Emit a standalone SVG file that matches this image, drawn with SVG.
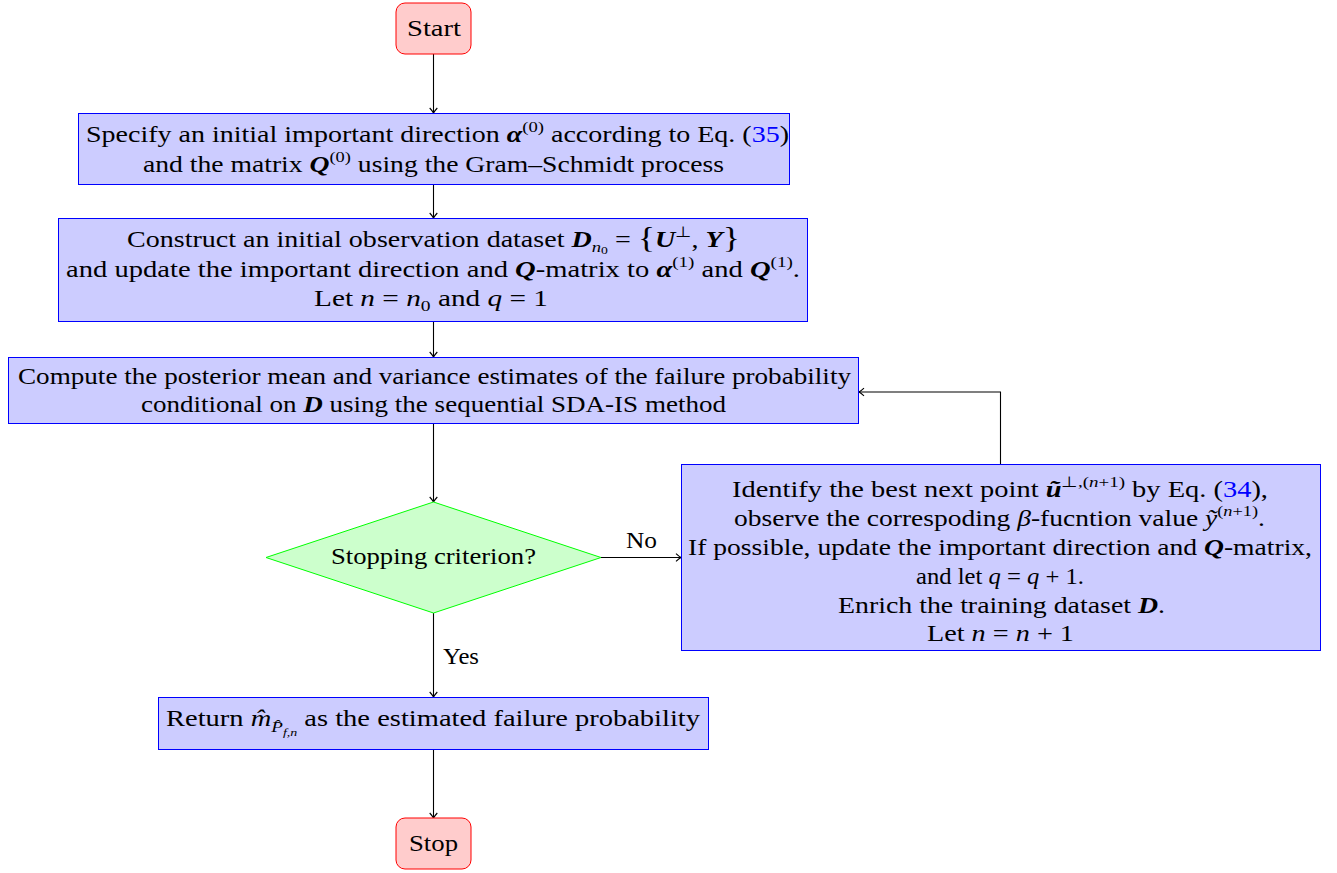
<svg xmlns="http://www.w3.org/2000/svg" width="1337" height="873" viewBox="0 0 1337 873">
<defs>
<style>
text{font-family:"Liberation Serif","Times New Roman",Tinos,serif;font-size:22.5px;fill:#000}
.m{font-style:italic}
.b{font-style:italic;font-weight:bold}
.s{font-size:15px}
.ss{font-size:11px}
.lk{fill:#0000ff}
.box{fill:#ccccff;stroke:#0000ff;stroke-width:1}
.term{fill:#ffcccc;stroke:#ff0000;stroke-width:1}
.dec{fill:#ccffcc;stroke:#00ff00;stroke-width:1}
.con{fill:none;stroke:#000;stroke-width:1.1}
</style>
<marker id="ar" markerWidth="12" markerHeight="12" refX="10" refY="6" orient="auto" markerUnits="userSpaceOnUse">
<path d="M5,2.2 Q8,5 10,6 Q8,7 5,9.8" fill="none" stroke="#000" stroke-width="1.1"/>
</marker>
</defs>

<g id="connectors">
<path class="con" d="M433.5,54 V113" marker-end="url(#ar)"/>
<path class="con" d="M433.5,185 V218" marker-end="url(#ar)"/>
<path class="con" d="M433.5,322 V357" marker-end="url(#ar)"/>
<path class="con" d="M433.5,424 V502" marker-end="url(#ar)"/>
<path class="con" d="M601,557.5 H681" marker-end="url(#ar)"/>
<path class="con" d="M433.5,613 V697" marker-end="url(#ar)"/>
<path class="con" d="M433.5,750 V818" marker-end="url(#ar)"/>
<path class="con" d="M1000.5,464 V392 H859" marker-end="url(#ar)"/>
<text x="626" y="548" textLength="31" lengthAdjust="spacingAndGlyphs">No</text>
<text x="443" y="664" textLength="36" lengthAdjust="spacingAndGlyphs">Yes</text>
</g>

<g id="start">
<rect class="term" x="396" y="3" width="75" height="51" rx="9"/>
<text x="407" y="36" textLength="54" lengthAdjust="spacingAndGlyphs">Start</text>
</g>

<g id="init">
<rect class="box" x="78.5" y="113.5" width="711" height="71"/>
<text x="86" y="142" textLength="703" lengthAdjust="spacingAndGlyphs">Specify an initial important direction <tspan class="b">α</tspan><tspan class="s" dy="-10">(0)</tspan><tspan dy="10"> according to Eq. (</tspan><tspan class="lk">35</tspan>)</text>
<text x="143" y="172" textLength="581" lengthAdjust="spacingAndGlyphs">and the matrix <tspan class="b">Q</tspan><tspan class="s" dy="-10">(0)</tspan><tspan dy="10"> using the Gram–Schmidt process</tspan></text>
</g>

<g id="construct">
<rect class="box" x="58.5" y="218.5" width="749" height="103"/>
<text x="127" y="247" textLength="613" lengthAdjust="spacingAndGlyphs">Construct an initial observation dataset <tspan class="b">D</tspan><tspan class="s m" dy="5">n</tspan><tspan class="ss" dy="2">0</tspan><tspan dy="-7"> = </tspan><tspan font-size="29">{</tspan><tspan class="b">U</tspan><tspan class="s" dy="-10">⊥</tspan><tspan dy="10">, </tspan><tspan class="b">Y</tspan><tspan font-size="29">}</tspan></text>
<text x="66" y="277" textLength="734" lengthAdjust="spacingAndGlyphs">and update the important direction and <tspan class="b">Q</tspan>-matrix to <tspan class="b">α</tspan><tspan class="s" dy="-10">(1)</tspan><tspan dy="10"> and </tspan><tspan class="b">Q</tspan><tspan class="s" dy="-10">(1)</tspan><tspan dy="10">.</tspan></text>
<text x="314" y="306" textLength="234" lengthAdjust="spacingAndGlyphs">Let <tspan class="m">n</tspan> = <tspan class="m">n</tspan><tspan class="s" dy="5">0</tspan><tspan dy="-5"> and </tspan><tspan class="m">q</tspan> = 1</text>
</g>

<g id="compute">
<rect class="box" x="8.5" y="357.5" width="850" height="66"/>
<text x="18" y="384" textLength="833" lengthAdjust="spacingAndGlyphs">Compute the posterior mean and variance estimates of the failure probability</text>
<text x="141" y="412" textLength="585" lengthAdjust="spacingAndGlyphs">conditional on <tspan class="b">D</tspan> using the sequential SDA-IS method</text>
</g>

<g id="decision">
<polygon class="dec" points="433.5,502 601,557.5 433.5,613 266,557.5"/>
<text x="331" y="564" textLength="205" lengthAdjust="spacingAndGlyphs">Stopping criterion?</text>
</g>

<g id="enrich">
<rect class="box" x="681.5" y="464.5" width="639" height="186"/>
<text x="732" y="497" textLength="536" lengthAdjust="spacingAndGlyphs">Identify the best next point <tspan class="b">ũ</tspan><tspan class="s" dy="-10">⊥,(<tspan class="m">n</tspan>+1)</tspan><tspan dy="10"> by Eq. (</tspan><tspan class="lk">34</tspan>),</text>
<text x="734" y="526" textLength="531" lengthAdjust="spacingAndGlyphs">observe the correspoding <tspan class="m">β</tspan>-fucntion value <tspan class="m">ỹ</tspan><tspan class="s" dy="-10">(<tspan class="m">n</tspan>+1)</tspan><tspan dy="10">.</tspan></text>
<text x="688" y="555" textLength="624" lengthAdjust="spacingAndGlyphs">If possible, update the important direction and <tspan class="b">Q</tspan>-matrix,</text>
<text x="916" y="584" textLength="168" lengthAdjust="spacingAndGlyphs">and let <tspan class="m">q</tspan> = <tspan class="m">q</tspan> + 1.</text>
<text x="838" y="613" textLength="327" lengthAdjust="spacingAndGlyphs">Enrich the training dataset <tspan class="b">D</tspan>.</text>
<text x="927" y="641" textLength="147" lengthAdjust="spacingAndGlyphs">Let <tspan class="m">n</tspan> = <tspan class="m">n</tspan> + 1</text>
</g>

<g id="return">
<rect class="box" x="158.5" y="697.5" width="550" height="52"/>
<text x="166" y="726" textLength="534" lengthAdjust="spacingAndGlyphs">Return <tspan class="m">m̂</tspan><tspan class="s m" dy="6">P̂</tspan><tspan class="ss m" dy="4">f,n</tspan><tspan dy="-10"> as the estimated failure probability</tspan></text>
</g>

<g id="stop">
<rect class="term" x="396" y="818" width="75" height="51" rx="9"/>
<text x="409" y="851" textLength="49" lengthAdjust="spacingAndGlyphs">Stop</text>
</g>
</svg>
